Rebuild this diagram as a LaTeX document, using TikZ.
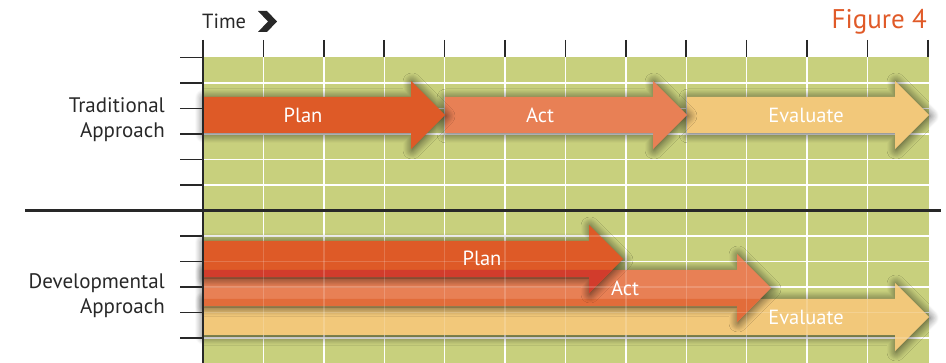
\documentclass[tikz,border=0pt]{standalone}
\usepackage{fontspec}
\setmainfont{PT Sans}
\usetikzlibrary{shadows.blur}

\definecolor{gridgreen}{RGB}{200,208,125}
\definecolor{planred}{RGB}{222,90,39}
\definecolor{actorange}{RGB}{232,128,85}
\definecolor{evalyellow}{RGB}{242,200,122}
\definecolor{planact}{RGB}{210,60,44}
\definecolor{actevel}{RGB}{226,108,58}
\definecolor{figorange}{RGB}{224,90,40}
\definecolor{inkgray}{RGB}{40,40,40}

\begin{document}
\begin{tikzpicture}[x=1pt,y=-1pt,
        phase/.style n args={3}{insert path={(#1,#3-18) -- (#2-34,#3-18) -- (#2-34,#3-34) -- (#2,#3)
            -- (#2-34,#3+34) -- (#2-34,#3+18) -- (#1,#3+18) -- cycle}},
        arrowshadow/.style={blur shadow={shadow xshift=1pt,shadow yshift=-1pt,
            shadow blur radius=9pt,shadow blur steps=10,shadow opacity=70}},
        gridline/.style={white,line width=1.4pt},
        tick/.style={inkgray,line width=1.6pt},
        phaselabel/.style={text=white,inner sep=0pt,font=\fontsize{20.5}{24}\selectfont},
        sidelabel/.style={text=inkgray,inner sep=0pt,align=right,anchor=east,font=\fontsize{21}{25}\selectfont}]
    \useasboundingbox (0,0) rectangle (946,363);

    % chart background and grid
    \fill[gridgreen] (203,57) rectangle (929,363);
    \foreach \i in {1,...,11}
        \draw[gridline] ({203+60.4*\i},57) -- ({203+60.4*\i},363);
    \foreach \j in {1,...,11}
        \draw[gridline] (203,{57.5+25.5*\j}) -- (929,{57.5+25.5*\j});

    % traditional approach
    \fill[evalyellow,arrowshadow,phase={687}{929}{115}];
    \fill[actorange,arrowshadow,phase={445}{687}{115}];
    \fill[planred,arrowshadow,phase={203}{445}{115}];

    % developmental approach
    \fill[evalyellow,arrowshadow,phase={203}{929}{317}];
    \fill[actorange,arrowshadow,phase={203}{771}{288}];
    \begin{scope}
        \clip[phase={203}{929}{317}];
        \fill[actevel,phase={203}{771}{288}];
    \end{scope}
    \fill[planred,arrowshadow,phase={203}{623}{259}];
    \begin{scope}
        \clip[phase={203}{771}{288}];
        \fill[planact,phase={203}{623}{259}];
    \end{scope}

    % grid seen through the arrows
    \begin{scope}[opacity=0.18]
        \foreach \i in {1,...,11}
            \draw[gridline] ({203+60.4*\i},224) -- ({203+60.4*\i},352);
        \foreach \j in {7,...,11}
            \draw[gridline] (203,{57.5+25.5*\j}) -- (929,{57.5+25.5*\j});
    \end{scope}

    % axes and ticks
    \foreach \i in {0,...,12}
        \draw[tick] ({203+60.4*\i},40) -- ({203+60.4*\i},57);
    \foreach \j in {0,...,5,7,8,...,11}
        \draw[tick] (180,{57.5+25.5*\j}) -- (203,{57.5+25.5*\j});
    \draw[inkgray,line width=3pt] (25,210.5) -- (941,210.5);
    \draw[inkgray,line width=2.6pt] (203,57) -- (203,363);

    % labels
    \node[text=inkgray,inner sep=0pt,anchor=base west,font=\fontsize{20.5}{24}\selectfont] (time) at (202,29) {Time};
    \fill[inkgray] (258,11) -- (267,11) -- (277,21.5) -- (267,32) -- (258,32) -- (268,21.5) -- cycle;
    \node[text=figorange,inner sep=0pt,anchor=base east,font=\fontsize{27}{30}\selectfont] (figlabel) at (927,29) {Figure 4};

    \node[sidelabel] (tradlabel) at (165,119.5) {Traditional\\Approach};
    \node[sidelabel] (devlabel) at (165,295.5) {Developmental\\Approach};

    \node[phaselabel] (tradplan) at (303,115) {Plan};
    \node[phaselabel] (tradact) at (540,115) {Act};
    \node[phaselabel] (tradeval) at (806,115) {Evaluate};
    \node[phaselabel] (devplan) at (482,258) {Plan};
    \node[phaselabel] (devact) at (625,288) {Act};
    \node[phaselabel] (deveval) at (806,317) {Evaluate};
\end{tikzpicture}
\end{document}
